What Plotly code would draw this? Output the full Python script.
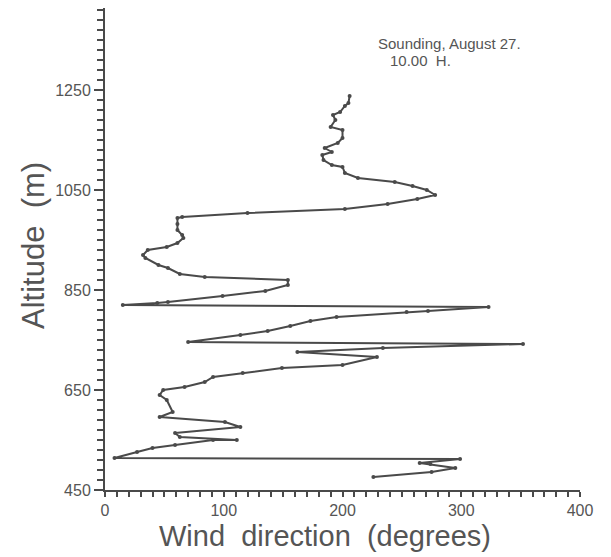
import plotly.graph_objects as go

direction = [226, 275, 295, 274, 265, 299, 8, 27, 40, 59, 91, 111, 63, 59,
             114, 101, 46, 57, 52, 46, 49, 67, 84, 91, 116, 149, 200, 229, 162,
             234, 352, 70, 114, 137, 156, 173, 195, 254, 272, 323, 15, 44, 53, 99,
             135, 154, 154, 84, 63, 53, 45, 34, 32, 36, 52, 61, 66, 65, 61, 61, 61,
             65, 120, 202, 238, 263, 278, 271, 259, 244, 213, 202, 200, 191, 184,
             183, 191, 185, 196, 200, 200, 190, 194, 192, 198, 202, 205, 206]
altitude = [476, 486, 494, 502, 504, 512, 514, 526, 534, 540, 550, 550, 556, 564,
            576, 586, 596, 606, 630, 640, 650, 656, 666, 676, 684, 694, 700, 716, 726,
            734, 742, 746, 760, 768, 778, 788, 796, 806, 808, 816, 820, 824, 826, 838,
            848, 860, 870, 876, 882, 894, 900, 914, 920, 930, 936, 944, 954, 960, 970, 982, 994,
            996, 1004, 1012, 1022, 1032, 1040, 1050, 1058, 1066, 1074, 1084, 1096, 1100, 1110,
            1120, 1126, 1134, 1144, 1154, 1170, 1176, 1190, 1200, 1206, 1218, 1224, 1238]

x_ticks = [0, 100, 200, 300, 400]
y_ticks = [450, 650, 850, 1050, 1250]

ink = "#4a4a4a"
txt = "#555555"
fig = go.Figure()
fig.add_trace(go.Scatter(
    x=direction, y=altitude, mode="lines+markers",
    line=dict(color=ink, width=2),
    marker=dict(color=ink, size=4),
    showlegend=False, hoverinfo="skip"))

font_family = "Liberation Sans, DejaVu Sans, sans-serif"
fig.update_layout(
    width=603, height=549,
    margin=dict(l=97, r=31, t=0, b=67),
    paper_bgcolor="white", plot_bgcolor="white",
    font=dict(family=font_family, color=txt),
    xaxis=dict(range=[0, 400], tickvals=x_ticks, ticktext=[str(v) for v in x_ticks],
               showgrid=False, zeroline=False, showline=True, linecolor=ink, linewidth=2,
               ticks="outside", ticklen=5, tickwidth=2, tickcolor=ink,
               tickfont=dict(size=16, color=txt),
               minor=dict(dtick=10, ticks="outside", ticklen=5, tickwidth=1.5, tickcolor=ink, showgrid=False)),
    yaxis=dict(range=[450, 1414], tickvals=y_ticks, ticktext=[str(v) for v in y_ticks],
               showgrid=False, zeroline=False, showline=True, linecolor=ink, linewidth=2,
               ticks="outside", ticklen=9, tickwidth=2, tickcolor=ink,
               tickfont=dict(size=16, color=txt),
               minor=dict(tick0=450, dtick=20, ticks="outside", ticklen=6, tickwidth=1.5, tickcolor=ink, showgrid=False)),
    annotations=[
        dict(text="Sounding, August 27.", xref="paper", yref="paper",
             x=0.725, y=0.927, xanchor="center", yanchor="middle", showarrow=False,
             font=dict(size=15, color=txt)),
        dict(text="10.00  H.", xref="paper", yref="paper",
             x=0.665, y=0.892, xanchor="center", yanchor="middle", showarrow=False,
             font=dict(size=15, color=txt)),
        dict(text="Wind  direction  (degrees)", xref="paper", yref="paper",
             x=0.463, y=-0.095, xanchor="center", yanchor="middle", showarrow=False,
             font=dict(size=29, color=txt)),
        dict(text="Altitude  (m)", xref="paper", yref="paper", textangle=-90,
             x=-0.152, y=0.508, xanchor="center", yanchor="middle", showarrow=False,
             font=dict(size=31, color=txt)),
    ],
)

fig.write_html("out.html")
